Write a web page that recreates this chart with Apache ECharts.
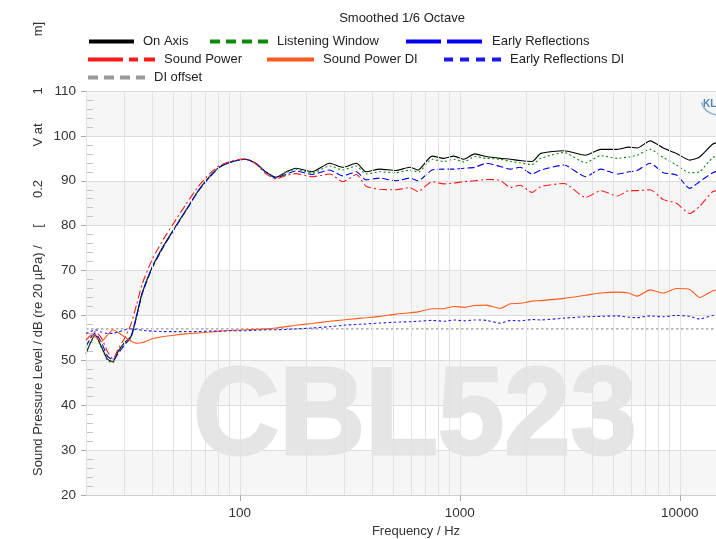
<!DOCTYPE html>
<html>
<head>
<meta charset="utf-8">
<script src="https://cdn.jsdelivr.net/npm/echarts@6/dist/echarts.min.js"></script>
<style>
html,body{margin:0;padding:0;background:#fff;}
#chart{width:716px;height:539px;}
</style>
</head>
<body>
<div id="chart"></div>
<script>
// frequency points (Hz) shared by all measured curves
var freqs = [20, 21, 22, 23.5, 25, 26.5, 28, 30, 32, 34,
  36, 40, 45, 50, 57, 65, 73, 81, 93, 106,
  118, 131, 146, 163, 180, 213, 256, 294, 339, 375,
  433, 512, 593, 646, 748, 846, 940, 1045, 1168, 1322,
  1525, 1700, 1880, 2130, 2335, 2980, 3730, 4375, 5200, 5860,
  6400, 7330, 8420, 9660, 11100, 12300, 14150, 16000];

var onAxis = [51.5, 54.0, 55.7, 53.0, 50.3, 49.7, 52.0, 54.0, 55.3, 60.1,
  65.0, 70.8, 75.5, 79.1, 83.5, 87.9, 91.0, 93.1, 94.3, 94.8,
  93.9, 92.0, 90.8, 92.0, 92.8, 92.0, 93.9, 93.0, 93.9, 92.0,
  92.6, 92.3, 93.0, 92.4, 95.5, 95.0, 95.5, 94.8, 96.0, 95.4,
  95.0, 94.8, 94.5, 94.3, 96.1, 96.7, 95.7, 97.0, 97.0, 97.5,
  97.3, 98.9, 97.3, 96.1, 94.6, 95.3, 98.2, 98.8];

var listeningWindow = [51.5, 54.0, 55.5, 52.8, 50.0, 49.5, 51.8, 53.9, 55.2, 60.0,
  65.0, 70.8, 75.4, 79.0, 83.4, 87.9, 91.0, 93.1, 94.3, 94.8,
  93.9, 92.0, 90.8, 91.9, 92.6, 91.7, 93.3, 92.4, 93.3, 91.5,
  92.0, 91.8, 92.4, 91.9, 94.8, 94.3, 94.8, 94.2, 95.4, 95.0,
  94.8, 94.3, 94.0, 93.6, 95.0, 96.3, 94.0, 95.6, 95.0, 95.3,
  95.7, 97.0, 95.2, 93.5, 91.8, 92.0, 95.2, 96.0];

var earlyReflections = [53.0, 55.0, 56.0, 54.0, 51.0, 50.1, 51.5, 53.5, 55.0, 59.8,
  64.8, 70.6, 75.3, 79.0, 83.4, 87.8, 90.8, 93.0, 94.3, 94.8,
  93.9, 92.0, 90.6, 91.5, 92.2, 91.4, 92.4, 91.1, 92.0, 90.2,
  90.6, 90.0, 90.6, 90.0, 92.4, 92.6, 92.6, 92.8, 93.0, 93.9,
  93.2, 92.6, 93.0, 91.5, 92.4, 93.5, 90.9, 92.6, 91.5, 92.0,
  92.3, 93.9, 91.8, 91.3, 88.3, 89.8, 91.8, 92.5];

var soundPower = [54.5, 55.5, 56.4, 55.0, 52.0, 50.3, 52.5, 55.0, 58.0, 62.5,
  67.0, 72.5, 77.0, 80.5, 84.8, 88.8, 91.6, 93.4, 94.5, 94.9,
  93.8, 91.6, 90.4, 91.2, 91.6, 90.9, 91.5, 89.8, 91.4, 88.8,
  88.1, 88.0, 88.5, 87.6, 89.8, 89.3, 89.5, 89.8, 90.0, 90.3,
  90.1, 88.5, 89.0, 87.4, 88.7, 89.4, 86.3, 87.8, 86.6, 87.8,
  87.8, 88.0, 85.8, 85.0, 82.7, 84.3, 87.6, 88.0];

var soundPowerDI = [54.5, 55.5, 55.3, 54.2, 55.6, 56.8, 56.2, 55.2, 54.3, 53.8,
  53.9, 54.8, 55.3, 55.6, 55.9, 56.1, 56.3, 56.5, 56.7, 56.8,
  56.9, 57.0, 57.2, 57.5, 57.8, 58.2, 58.7, 59.0, 59.3, 59.5,
  59.8, 60.3, 60.6, 60.8, 61.5, 61.5, 62.0, 61.8, 62.2, 62.3,
  61.6, 62.6, 62.7, 63.2, 63.3, 63.8, 64.5, 65.0, 65.2, 65.0,
  64.3, 65.7, 65.0, 66.0, 65.8, 64.0, 65.5, 66.0];

var earlyReflectionsDI = [56.0, 56.4, 56.8, 56.3, 56.0, 56.0, 56.3, 56.8, 57.0, 56.9,
  56.7, 56.5, 56.4, 56.4, 56.4, 56.4, 56.5, 56.5, 56.6, 56.6,
  56.7, 56.8, 56.8, 56.9, 57.0, 57.2, 57.5, 57.8, 58.0, 58.1,
  58.3, 58.5, 58.6, 58.7, 58.9, 58.7, 59.0, 58.8, 59.0, 58.9,
  58.3, 58.9, 58.8, 59.1, 59.0, 59.4, 59.7, 59.8, 59.9, 59.6,
  59.5, 59.9, 59.7, 60.0, 59.8, 59.2, 60.0, 60.2];

var diOffsetFreqs = [20, 20000];
var diOffset = [57, 57];

var xTickLabels = [100, 1000, 10000];

var F = '"Liberation Sans", Arial, sans-serif';

// vertical log grid lines: 20,30..90,100,200..
var gridFreqs = [];
for (var d = 10; d <= 10000; d *= 10) {
  for (var m = 1; m <= 9; m++) {
    var f = d * m;
    if (f >= 20 && f <= 20000) gridFreqs.push(f);
  }
}
gridFreqs.push(20000);

function pairs(xs, ys) {
  return xs.map(function (x, i) { return [x, ys[i]]; });
}

function curve(name, ys, color, dash, z) {
  return {
    name: name, type: 'line', data: pairs(freqs, ys),
    symbol: 'none', smooth: 0.2, animation: false, silent: true, z: z,
    lineStyle: { color: color, width: 1.1, type: dash },
    itemStyle: { color: color }
  };
}

// legend entries: name, icon left, row centre y, icon width, icon dash
var legendLayout = [
  ['On Axis', 87, 42, 45, 'solid'],
  ['Listening Window', 208, 42, 58, [10, 6]],
  ['Early Reflections', 404, 42, 77, [35, 6]],
  ['Sound Power', 86, 60, 67, [35, 6, 9, 6]],
  ['Sound Power DI', 265, 60, 47, 'solid'],
  ['Early Reflections DI', 442, 60, 57, [9, 7]],
  ['DI offset', 86, 78, 57, [10, 6]]
];

var legends = legendLayout.map(function (l) {
  return {
    data: [l[0]], left: l[1], top: l[2] - 7, padding: 0,
    itemWidth: l[3], itemHeight: 14, selectedMode: false,
    lineStyle: { width: 4, type: l[4], cap: 'butt' },
    itemStyle: { opacity: 0 },
    textStyle: { fontSize: 13, color: '#222', fontFamily: F, padding: [0, 0, 0, 4] }
  };
});

var yTitle = [
  ['Sound Pressure Level / dB (re 20 µPa) /', 476, 'left'],
  ['[', 226, 'center'],
  ['0.2', 189, 'center'],
  ['V at', 135, 'center'],
  ['1', 91, 'center'],
  ['m]', 29, 'center']
];

var graphics = yTitle.map(function (t) {
  return {
    type: 'text', x: 38, y: t[1], rotation: Math.PI / 2, silent: true,
    style: { text: t[0], fontSize: 13, fill: '#333', fontFamily: F, align: t[2], verticalAlign: 'middle' }
  };
});
graphics.push({
  type: 'text', x: 415, y: 420, scaleX: 0.96, z: 1, silent: true,
  style: { text: 'CBL523', fontSize: 124, fontWeight: 'bold', fill: '#e5e5e5', stroke: '#e5e5e5', lineWidth: 3, fontFamily: F, align: 'center', verticalAlign: 'middle' }
});
graphics.push({
  type: 'text', x: 703, y: 104, z: 10, silent: true,
  style: { text: 'KLIPPEL', fontSize: 10, fontWeight: 'bold', fill: '#4f86b3', fontFamily: F, align: 'left', verticalAlign: 'middle' }
});
graphics.push({
  type: 'arc', z: 10, silent: true,
  shape: { cx: 718, cy: 98, r: 17, startAngle: Math.PI * 0.5, endAngle: Math.PI * 0.92 },
  style: { stroke: '#8fb0cc', lineWidth: 1.5, fill: null }
});

var chart = echarts.init(document.getElementById('chart'), null, { renderer: 'canvas' });

var option = {
  animation: false,
  backgroundColor: '#fff',
  title: {
    text: 'Smoothed 1/6 Octave', left: 402, top: 12, textAlign: 'center', padding: 0,
    textStyle: { fontSize: 13, fontWeight: 'normal', color: '#222', fontFamily: F }
  },
  legend: legends,
  graphic: graphics,
  grid: { left: 86, top: 91, right: -30, bottom: 44, outerBoundsMode: 'none', containLabel: false },
  xAxis: {
    type: 'log', logBase: 10, min: 20, max: 20000,
    name: 'Frequency / Hz', nameLocation: 'middle', nameGap: 30,
    nameTextStyle: { fontSize: 13, color: '#333', fontFamily: F },
    axisLine: { show: true, lineStyle: { color: '#d0d0d0' } },
    axisTick: { show: true, length: 6, lineStyle: { color: '#aaa' } },
    axisLabel: {
      fontSize: 13.5, color: '#333', fontFamily: F, margin: 11,
      showMinLabel: false, showMaxLabel: false,
      formatter: function (v) {
        var r = Math.round(v);
        return xTickLabels.indexOf(r) >= 0 ? String(r) : '';
      }
    },
    splitLine: { show: false },
    minorTick: { show: false },
    minorSplitLine: { show: false }
  },
  yAxis: [{
    type: 'value', min: 20, max: 110, interval: 10, position: 'left',
    axisLine: { show: true, lineStyle: { color: '#d0d0d0' } },
    axisTick: { show: true, length: 5, lineStyle: { color: '#aaa' } },
    axisLabel: { fontSize: 13.5, color: '#333', fontFamily: F, margin: 10 },
    splitLine: { show: true, lineStyle: { color: '#dcdcdc', width: 1 } },
    splitArea: { show: true, areaStyle: { color: ['#f6f6f6', '#ffffff'] } }
  }, {
    type: 'value', min: 20, max: 110, interval: 10, position: 'left',
    axisLine: { show: false },
    axisTick: { show: false, inside: true },
    axisLabel: { show: false },
    splitLine: { show: false },
    minorTick: { show: true, splitNumber: 5, length: 7, lineStyle: { color: '#c4c4c4' } }
  }],
  series: [
    curve('On Axis', onAxis, '#000000', 'solid', 2),
    curve('Listening Window', listeningWindow, '#0a8a0a', [2, 2.5], 3),
    curve('Early Reflections', earlyReflections, '#0000ee', [7, 3], 4),
    curve('Sound Power', soundPower, '#ff1a1a', [8, 3, 2, 3], 5),
    curve('Sound Power DI', soundPowerDI, '#ff5a1e', 'solid', 6),
    curve('Early Reflections DI', earlyReflectionsDI, '#1a1aee', [2.5, 2.5], 7),
    {
      name: 'DI offset', type: 'line', data: pairs(diOffsetFreqs, diOffset),
      symbol: 'none', animation: false, silent: true, z: 0.5,
      lineStyle: { color: '#999999', width: 1.2, type: [2.5, 2.5] },
      itemStyle: { color: '#999999' },
      markLine: {
        silent: true, animation: false, symbol: ['none', 'none'],
        label: { show: false },
        lineStyle: { color: '#e2e2e2', width: 1, type: 'solid' },
        data: gridFreqs.map(function (f) { return { xAxis: f }; })
      }
    }
  ]
};

chart.setOption(option);
</script>
</body>
</html>
